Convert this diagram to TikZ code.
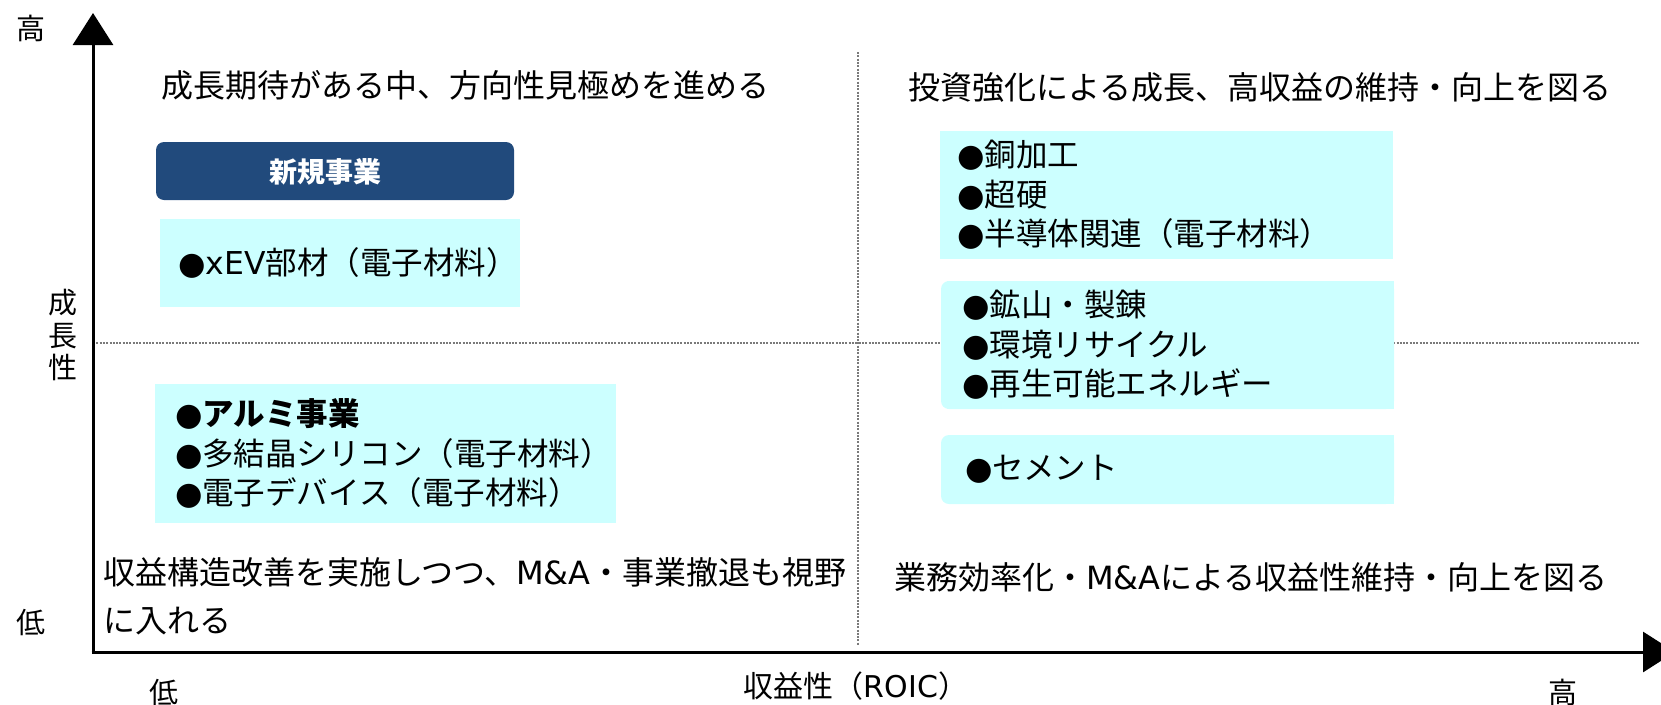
\documentclass[tikz,border=0pt]{standalone}
\usepackage{fontspec}
\setmainfont{Noto Sans CJK JP}
\newfontfamily\lat{DejaVu Sans}
\usetikzlibrary{arrows.meta}
\definecolor{navy}{HTML}{214A7C}
\definecolor{cyanbg}{HTML}{CCFFFF}
\definecolor{dotgray}{HTML}{7A7A7A}
\newcommand\bul{{\lat ●}}
\begin{document}
\begin{tikzpicture}[x=1pt,y=-1pt,
  ttl/.style={font=\fontsize{32}{48}\selectfont, anchor=west, inner sep=0, align=left},
  itm/.style={font=\fontsize{31.5}{39.5}\selectfont, anchor=west, align=left, inner sep=0},
  axl/.style={font=\fontsize{29}{32.5}\selectfont, inner sep=0, align=center},
  cbox/.style={fill=cyanbg, inner sep=0, draw=none, rectangle},
  gridline/.style={dotgray, line width=2.3pt, dash pattern=on 2pt off 1.3pt},
  axisline/.style={line width=3pt, -{Triangle[length=32pt,width=40pt]}}
]
\useasboundingbox (0,0) rectangle (1661,704);
\clip (0,0) rectangle (1661,704);

% dotted quadrant lines
\coordinate (vt) at (858,52);
\coordinate (vb) at (858,645);
\coordinate (hl) at (93,343);
\coordinate (hr) at (1640,343);
\draw[gridline] (vt) -- (vb);
\draw[gridline] (hl) -- (hr);

% axes
\coordinate (O) at (93,652);
\coordinate (ytip) at (93,13);
\coordinate (xtip) at (1675,652);
\draw[axisline, shorten <=-1.5pt] (O) -- (ytip);
\draw[axisline, shorten <=-1.5pt] (O) -- (xtip);

% axis labels
\node[axl] (yhigh) at (31,28) {高};
\node[axl] (ylab) at (63,335) {成\\長\\性};
\node[axl] (ylow) at (31,622) {低};
\node[axl] (xlow) at (164,692) {低};
\node[axl, font=\fontsize{30}{32}\selectfont] (xlab) at (856,686) {収益性（{\lat ROIC}）};
\node[axl] (xhigh) at (1563,692) {高};

% quadrant titles
\node[ttl] (tl) at (161,85) {成長期待がある中、方向性見極めを進める};
\node[ttl] (tr) at (908,87) {投資強化による成長、高収益の維持・向上を図る};
\node[ttl] (bl) at (103,596) {収益構造改善を実施しつつ、{\lat M\&A}・事業撤退も視野\\に入れる};
\node[ttl] (br) at (894,577) {業務効率化・{\lat M\&A}による収益性維持・向上を図る};

% boxes
\node[fill=navy, rounded corners=8pt, minimum width=358pt, minimum height=58pt, inner sep=0] (nb) at (335,171) {};
\node[font=\fontsize{28}{30}\selectfont\bfseries, text=white, inner sep=0] (nbt) at (325,172) {新規事業};

\node[cbox, minimum width=360pt, minimum height=88pt] (xev) at (340,263) {};
\node[itm] (xevt) at ([xshift=18pt]xev.west) {\bul{\lat xEV}部材（電子材料）};

\node[cbox, minimum width=453pt, minimum height=128pt] (rt) at (1166.5,195) {};
\node[itm] (rtt) at ([xshift=17pt]rt.west) {\bul 銅加工\\\bul 超硬\\\bul 半導体関連（電子材料）};

\node[cbox, rounded corners=8pt, minimum width=453pt, minimum height=128pt] (rm) at (1167.5,345) {};
\fill[cyanbg] ([xshift=6pt]rm.north west) rectangle (rm.south east);
\node[itm] (rmt) at ([xshift=21pt]rm.west) {\bul 鉱山・製錬\\\bul 環境リサイクル\\\bul 再生可能エネルギー};

\node[cbox, rounded corners=8pt, minimum width=453pt, minimum height=69pt] (cem) at (1167.5,469.5) {};
\fill[cyanbg] (cem.north) rectangle (cem.south east);
\node[itm] (cemt) at ([xshift=24pt]cem.west) {\bul セメント};

\node[cbox, minimum width=461pt, minimum height=139pt] (lb) at (385.5,453.5) {};
\node[itm] (lbt) at ([xshift=20pt]lb.west) {\bul\textbf{アルミ事業}\\\bul 多結晶シリコン（電子材料）\\\bul 電子デバイス（電子材料）};
\end{tikzpicture}
\end{document}
